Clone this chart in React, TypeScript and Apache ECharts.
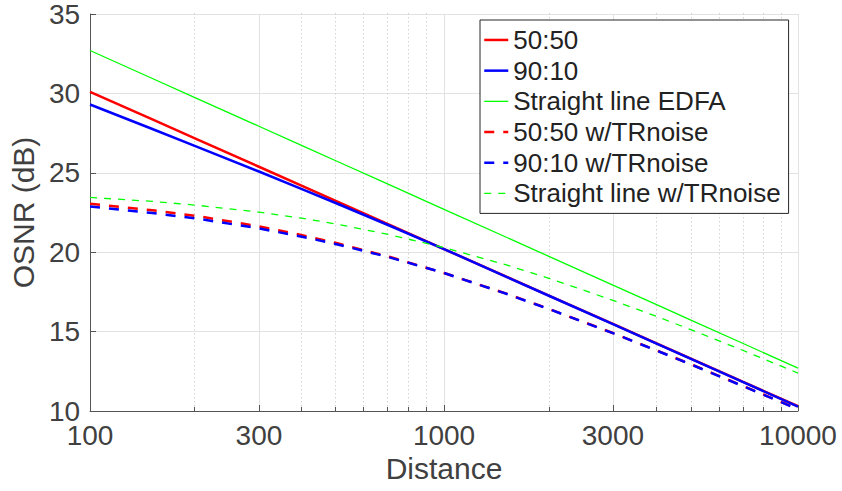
import React, { useEffect, useRef } from "react";
import * as echarts from "echarts";

// Distance samples (log-spaced) and OSNR values in dB
const distance = [100, 150, 200, 300, 400, 500, 700, 1000, 1500, 2000, 3000, 4000, 5000, 7000, 10000];

const osnr5050 = [30.1, 28.36, 27.12, 25.38, 24.14, 23.18, 21.73, 20.2, 18.46, 17.22, 15.48, 14.24, 13.28, 11.83, 10.3];
const osnr9010 = [29.3, 27.76, 26.65, 25.08, 23.94, 23.05, 21.68, 20.2, 18.45, 17.21, 15.47, 14.23, 13.27, 11.82, 10.28];
const osnrEdfa = [32.7, 30.94, 29.69, 27.93, 26.68, 25.71, 24.25, 22.7, 20.94, 19.69, 17.93, 16.68, 15.71, 14.25, 12.7];
const osnr5050Tr = [23.05, 22.64, 22.28, 21.63, 21.06, 20.56, 19.71, 18.69, 17.39, 16.39, 14.91, 13.8, 12.93, 11.57, 10.12];
const osnr9010Tr = [22.88, 22.47, 22.12, 21.5, 20.96, 20.49, 19.68, 18.69, 17.38, 16.38, 14.9, 13.79, 12.92, 11.56, 10.11];
const osnrEdfaTr = [23.45, 23.2, 22.96, 22.52, 22.13, 21.76, 21.11, 20.29, 19.2, 18.32, 16.97, 15.94, 15.11, 13.81, 12.39];

// Axis ticks
const xMajorTicks = [100, 300, 1000, 3000, 10000];
const xMinorTicks = [200, 400, 500, 600, 700, 800, 900, 2000, 4000, 5000, 6000, 7000, 8000, 9000];

const FONT = "'Liberation Sans', Arial, Helvetica, sans-serif";
const AXIS_COLOR = "#555555";
const TEXT_COLOR = "#404040";

const pair = (ys: number[]) => distance.map((d, i) => [d, ys[i]]);

export default function App() {
  const ref = useRef<HTMLDivElement>(null);

  useEffect(() => {
    if (!ref.current) return;
    const chart = echarts.init(ref.current, undefined, { renderer: "svg" });

    const gridRect = { left: 87, right: 44, top: 13, bottom: 80 };

    const lineSeries = (
      name: string,
      ys: number[],
      color: string,
      width: number,
      dash?: number[]
    ) => ({
      name,
      type: "line",
      xAxisIndex: 0,
      yAxisIndex: 0,
      data: pair(ys),
      symbol: "none",
      smooth: false,
      lineStyle: { color, width, type: dash ? dash : "solid" },
      itemStyle: { color },
      emphasis: { disabled: true },
    });

    chart.setOption({
      animation: false,
      textStyle: { fontFamily: FONT },
      grid: [
        { ...gridRect, containLabel: false },
        { ...gridRect, containLabel: false },
      ],
      xAxis: [
        {
          type: "log",
          logBase: 10,
          gridIndex: 0,
          min: 100,
          max: 10000,
          name: "Distance",
          nameLocation: "middle",
          nameGap: 40,
          nameTextStyle: { fontSize: 30, color: TEXT_COLOR, fontFamily: FONT },
          axisLine: { show: true, lineStyle: { color: AXIS_COLOR, width: 1 } },
          axisTick: {
            show: true,
            inside: true,
            length: 6,
            customValues: xMajorTicks,
            lineStyle: { color: AXIS_COLOR },
          },
          axisLabel: {
            show: true,
            customValues: xMajorTicks,
            fontSize: 28,
            color: TEXT_COLOR,
            margin: 10,
            fontFamily: FONT,
            formatter: (v: number) => String(Math.round(v)),
          },
          splitLine: { show: true, lineStyle: { color: "#e2e2e2", width: 1 } },
          minorTick: { show: false },
        },
        {
          type: "log",
          logBase: 10,
          gridIndex: 1,
          min: 100,
          max: 10000,
          axisLine: { show: false },
          axisTick: {
            show: true,
            inside: true,
            length: 4,
            customValues: xMinorTicks,
            lineStyle: { color: AXIS_COLOR },
          },
          axisLabel: { show: false },
          splitLine: {
            show: true,
            lineStyle: { color: "#d2d2d2", width: 1, type: [1.5, 2.5] },
          },
        },
      ],
      yAxis: [
        {
          type: "value",
          gridIndex: 0,
          min: 10,
          max: 35,
          interval: 5,
          name: "OSNR (dB)",
          nameLocation: "middle",
          nameGap: 45,
          nameTextStyle: { fontSize: 30, color: TEXT_COLOR, fontFamily: FONT },
          axisLine: { show: true, lineStyle: { color: AXIS_COLOR, width: 1 } },
          axisTick: { show: true, inside: true, length: 6, lineStyle: { color: AXIS_COLOR } },
          axisLabel: { fontSize: 28, color: TEXT_COLOR, margin: 10, fontFamily: FONT },
          splitLine: { show: true, lineStyle: { color: "#e2e2e2", width: 1 } },
        },
        {
          type: "value",
          gridIndex: 1,
          min: 10,
          max: 35,
          show: false,
        },
      ],
      legend: {
        show: true,
        orient: "vertical",
        left: 480,
        top: 20,
        padding: [4.6, 8, 4.6, 3],
        itemGap: 0,
        itemWidth: 24,
        itemHeight: 14,
        backgroundColor: "#ffffff",
        borderColor: "#262626",
        borderWidth: 1,
        borderRadius: 0,
        selectedMode: false,
        itemStyle: { opacity: 0 },
        lineStyle: { width: "inherit" },
        textStyle: { fontSize: 26, lineHeight: 30.7, color: "#222222", fontFamily: FONT },
        data: [
          "50:50",
          "90:10",
          "Straight line EDFA",
          "50:50 w/TRnoise",
          "90:10 w/TRnoise",
          "Straight line w/TRnoise",
        ],
      },
      series: [
        lineSeries("50:50", osnr5050, "#ff0000", 2.5),
        lineSeries("90:10", osnr9010, "#0000ff", 2.5),
        lineSeries("Straight line EDFA", osnrEdfa, "#00ff00", 1.3),
        lineSeries("50:50 w/TRnoise", osnr5050Tr, "#ff0000", 2.5, [10, 9]),
        lineSeries("90:10 w/TRnoise", osnr9010Tr, "#0000ff", 2.5, [10, 9]),
        lineSeries("Straight line w/TRnoise", osnrEdfaTr, "#00ff00", 1.3, [7, 7]),
      ],
    });

    return () => chart.dispose();
  }, []);

  return (
    <div
      ref={ref}
      style={{ position: "fixed", left: 0, top: 0, width: 842, height: 491, background: "#ffffff" }}
    />
  );
}
